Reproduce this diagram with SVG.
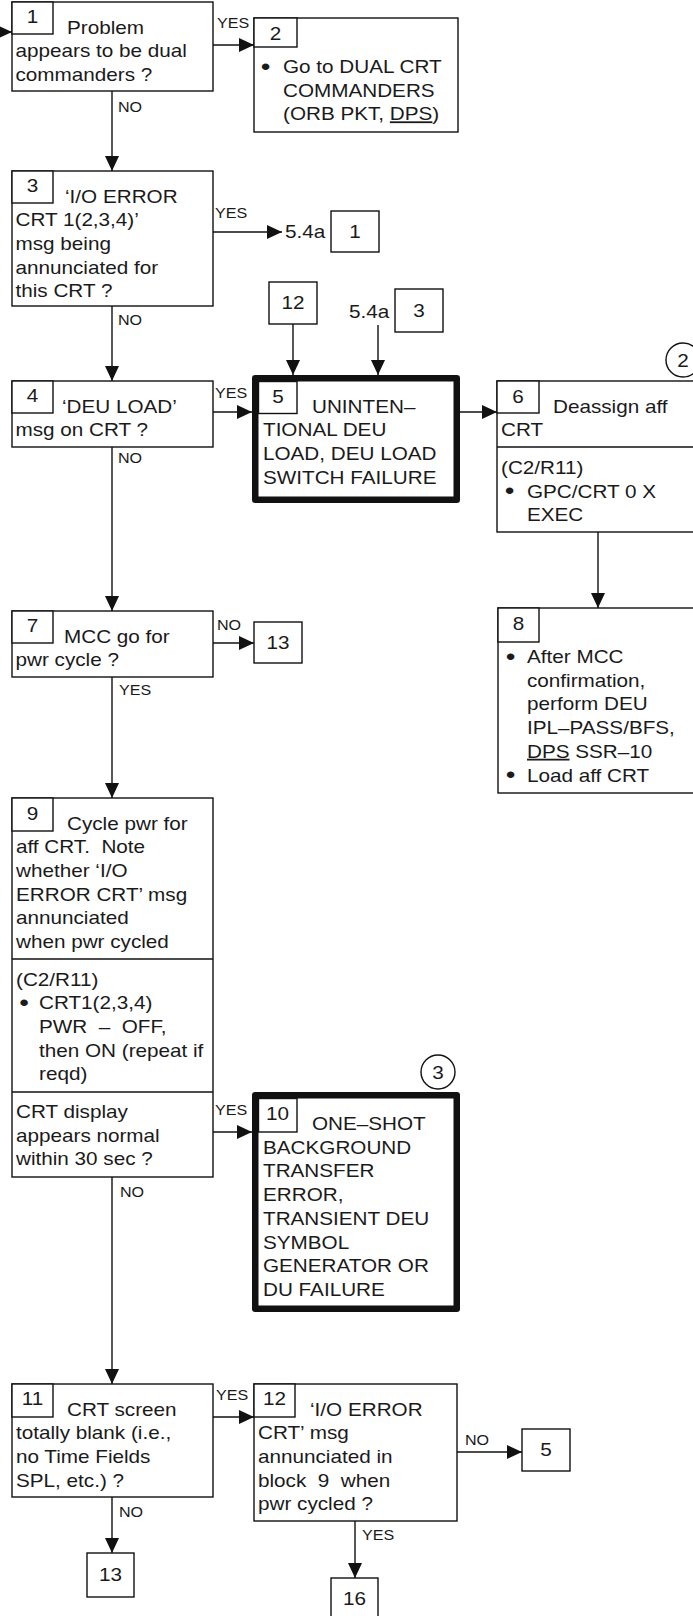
<svg xmlns="http://www.w3.org/2000/svg" width="693" height="1616" viewBox="0 0 693 1616">
<style>
.b{fill:#fff;stroke:#111;stroke-width:1.4}
.k{fill:#fff;stroke:#111;stroke-width:6.5;stroke-linejoin:round}
.n{fill:none;stroke:#111;stroke-width:1.4}
text{font-family:"Liberation Sans",Arial,Helvetica,sans-serif;font-size:18px;fill:#1a1a1a}
.s{font-size:14px}
.m{text-anchor:middle}
.bl{font-size:24px;text-anchor:middle}
.u{text-decoration:underline}
.c line{stroke:#111;stroke-width:1.4;marker-end:url(#ah)}
</style>
<defs>
<marker id="ah" markerUnits="userSpaceOnUse" markerWidth="16" markerHeight="14" refX="15" refY="7" orient="auto"><path d="M0,0 L15,7 L0,14 z" fill="#111"/></marker>
</defs>
<rect width="693" height="1616" fill="#fff"/>

<g id="connectors" class="c">
<line x1="0" y1="32" x2="12" y2="32"/>
<line x1="213" y1="45" x2="254" y2="45"/>
<line x1="112" y1="91" x2="112" y2="171"/>
<line x1="213" y1="232" x2="282" y2="232"/>
<line x1="112" y1="306" x2="112" y2="381"/>
<line x1="293" y1="324" x2="293" y2="375"/>
<line x1="378" y1="325" x2="378" y2="375"/>
<line x1="213" y1="412" x2="252" y2="412"/>
<line x1="460" y1="412" x2="497" y2="412"/>
<line x1="112" y1="447" x2="112" y2="611"/>
<line x1="598" y1="532" x2="598" y2="608"/>
<line x1="213" y1="643" x2="254" y2="643"/>
<line x1="112" y1="677" x2="112" y2="798"/>
<line x1="213" y1="1132" x2="252" y2="1132"/>
<line x1="112" y1="1177" x2="112" y2="1384"/>
<line x1="213" y1="1417" x2="254" y2="1417"/>
<line x1="112" y1="1497" x2="112" y2="1553"/>
<line x1="457" y1="1452" x2="522" y2="1452"/>
<line x1="355" y1="1521" x2="355" y2="1578"/>
<text class="s" transform="matrix(1.15 0 0 1 217 28)">YES</text>
<text class="s" transform="matrix(1.15 0 0 1 118 112)">NO</text>
<text class="s" transform="matrix(1.15 0 0 1 215 218)">YES</text>
<text class="s" transform="matrix(1.15 0 0 1 118 325)">NO</text>
<text class="s" transform="matrix(1.15 0 0 1 215 398)">YES</text>
<text class="s" transform="matrix(1.15 0 0 1 118 463)">NO</text>
<text class="s" transform="matrix(1.15 0 0 1 217 630)">NO</text>
<text class="s" transform="matrix(1.15 0 0 1 119 695)">YES</text>
<text class="s" transform="matrix(1.15 0 0 1 215 1115)">YES</text>
<text class="s" transform="matrix(1.15 0 0 1 120 1197)">NO</text>
<text class="s" transform="matrix(1.15 0 0 1 216 1400)">YES</text>
<text class="s" transform="matrix(1.15 0 0 1 119 1517)">NO</text>
<text class="s" transform="matrix(1.15 0 0 1 465 1445)">NO</text>
<text class="s" transform="matrix(1.15 0 0 1 362 1540)">YES</text>
</g>

<g id="n1">
<rect class="b" x="12" y="2" width="201" height="89"/>
<rect class="b" x="12" y="2" width="41" height="32"/>
<text class="m" transform="matrix(1.15 0 0 1 32.5 23)">1</text>
<text transform="matrix(1.15 0 0 1 67 33.5)">Problem</text>
<text transform="matrix(1.15 0 0 1 15.5 57.2)">appears to be dual</text>
<text transform="matrix(1.15 0 0 1 15.5 80.9)">commanders ?</text>
</g>

<g id="n2">
<rect class="b" x="254" y="18" width="204" height="114"/>
<rect class="b" x="254" y="18" width="43" height="29"/>
<text class="m" transform="matrix(1.15 0 0 1 275.5 40)">2</text>
<text class="bl" transform="matrix(1.15 0 0 1 265.5 74.5)">•</text>
<text transform="matrix(1.15 0 0 1 283 73)">Go to DUAL CRT</text>
<text transform="matrix(1.15 0 0 1 283 96.7)">COMMANDERS</text>
<text transform="matrix(1.15 0 0 1 283 120.4)">(ORB PKT, <tspan class="u">DPS</tspan>)</text>
</g>

<g id="n3">
<rect class="b" x="12" y="171" width="201" height="135"/>
<rect class="b" x="12" y="171" width="41" height="32"/>
<text class="m" transform="matrix(1.15 0 0 1 32.5 192)">3</text>
<text transform="matrix(1.15 0 0 1 65 202.5)">‘I/O ERROR</text>
<text transform="matrix(1.15 0 0 1 15.5 226.2)">CRT 1(2,3,4)’</text>
<text transform="matrix(1.15 0 0 1 15.5 249.9)">msg being</text>
<text transform="matrix(1.15 0 0 1 15.5 273.6)">annunciated for</text>
<text transform="matrix(1.15 0 0 1 15.5 297.3)">this CRT ?</text>
</g>

<g id="ref-5-4a-1">
<text transform="matrix(1.15 0 0 1 285 238)">5.4a</text>
<rect class="b" x="331" y="211" width="48" height="41"/>
<text class="m" transform="matrix(1.15 0 0 1 355 238)">1</text>
</g>

<g id="ref-12">
<rect class="b" x="269" y="282" width="48" height="42"/>
<text class="m" transform="matrix(1.15 0 0 1 293 309)">12</text>
</g>

<g id="ref-5-4a-3">
<text transform="matrix(1.15 0 0 1 349 318)">5.4a</text>
<rect class="b" x="395" y="289" width="48" height="43"/>
<text class="m" transform="matrix(1.15 0 0 1 419 317)">3</text>
</g>

<g id="n4">
<rect class="b" x="12" y="381" width="201" height="66"/>
<rect class="b" x="12" y="381" width="41" height="32"/>
<text class="m" transform="matrix(1.15 0 0 1 32.5 402)">4</text>
<text transform="matrix(1.15 0 0 1 62 412.5)">‘DEU LOAD’</text>
<text transform="matrix(1.15 0 0 1 15.5 436.2)">msg on CRT ?</text>
</g>

<g id="n5">
<rect class="k" x="255.25" y="378.25" width="201.5" height="121.5"/>
<rect class="b" x="258.5" y="381.5" width="38.5" height="32"/>
<text class="m" transform="matrix(1.15 0 0 1 278 403)">5</text>
<text transform="matrix(1.15 0 0 1 312 412.5)">UNINTEN–</text>
<text transform="matrix(1.15 0 0 1 263 436.2)">TIONAL DEU</text>
<text transform="matrix(1.15 0 0 1 263 459.9)">LOAD, DEU LOAD</text>
<text transform="matrix(1.15 0 0 1 263 483.6)">SWITCH FAILURE</text>
</g>

<g id="n6">
<rect class="b" x="497" y="381" width="210" height="151"/>
<line class="n" x1="497" y1="447" x2="700" y2="447"/>
<rect class="b" x="497" y="381" width="42" height="32"/>
<text class="m" transform="matrix(1.15 0 0 1 518 402.5)">6</text>
<text transform="matrix(1.15 0 0 1 553 412.5)">Deassign aff</text>
<text transform="matrix(1.15 0 0 1 501 436.2)">CRT</text>
<text transform="matrix(1.15 0 0 1 501 474)">(C2/R11)</text>
<text class="bl" transform="matrix(1.15 0 0 1 509.5 499.2)">•</text>
<text transform="matrix(1.15 0 0 1 527 497.7)">GPC/CRT 0 X</text>
<text transform="matrix(1.15 0 0 1 527 521.4)">EXEC</text>
<circle class="b" cx="683" cy="360" r="17"/>
<text class="m" transform="matrix(1.15 0 0 1 683 366.5)">2</text>
</g>

<g id="n7">
<rect class="b" x="12" y="611" width="201" height="66"/>
<rect class="b" x="12" y="611" width="41" height="32"/>
<text class="m" transform="matrix(1.15 0 0 1 32.5 632)">7</text>
<text transform="matrix(1.15 0 0 1 64 642.5)">MCC go for</text>
<text transform="matrix(1.15 0 0 1 15.5 666.2)">pwr cycle ?</text>
</g>

<g id="ref-13a">
<rect class="b" x="254" y="622" width="48" height="41"/>
<text class="m" transform="matrix(1.15 0 0 1 278 648.5)">13</text>
</g>

<g id="n8">
<rect class="b" x="498" y="608" width="210" height="185"/>
<rect class="b" x="498" y="608" width="41" height="34"/>
<text class="m" transform="matrix(1.15 0 0 1 518.5 630)">8</text>
<text class="bl" transform="matrix(1.15 0 0 1 510.5 664.5)">•</text>
<text transform="matrix(1.15 0 0 1 527 663)">After MCC</text>
<text transform="matrix(1.15 0 0 1 527 686.7)">confirmation,</text>
<text transform="matrix(1.15 0 0 1 527 710.4)">perform DEU</text>
<text transform="matrix(1.15 0 0 1 527 734.1)">IPL–PASS/BFS,</text>
<text transform="matrix(1.15 0 0 1 527 757.8)"><tspan class="u">DPS</tspan> SSR–10</text>
<text class="bl" transform="matrix(1.15 0 0 1 510.5 783)">•</text>
<text transform="matrix(1.15 0 0 1 527 781.5)">Load aff CRT</text>
</g>

<g id="n9">
<rect class="b" x="12" y="798" width="201" height="379"/>
<line class="n" x1="12" y1="959" x2="213" y2="959"/>
<line class="n" x1="12" y1="1092" x2="213" y2="1092"/>
<rect class="b" x="12" y="798" width="41" height="33"/>
<text class="m" transform="matrix(1.15 0 0 1 32.5 820)">9</text>
<text transform="matrix(1.15 0 0 1 67 829.5)">Cycle pwr for</text>
<text transform="matrix(1.15 0 0 1 16 853.2)" xml:space="preserve">aff CRT.  Note</text>
<text transform="matrix(1.15 0 0 1 16 876.9)">whether ‘I/O</text>
<text transform="matrix(1.15 0 0 1 16 900.6)">ERROR CRT’ msg</text>
<text transform="matrix(1.15 0 0 1 16 924.3)">annunciated</text>
<text transform="matrix(1.15 0 0 1 16 948)">when pwr cycled</text>
<text transform="matrix(1.15 0 0 1 16 985.5)">(C2/R11)</text>
<text class="bl" transform="matrix(1.15 0 0 1 24 1010.7)">•</text>
<text transform="matrix(1.15 0 0 1 39 1009.2)">CRT1(2,3,4)</text>
<text transform="matrix(1.15 0 0 1 39 1032.9)" xml:space="preserve">PWR  –  OFF,</text>
<text transform="matrix(1.15 0 0 1 39 1056.6)">then ON (repeat if</text>
<text transform="matrix(1.15 0 0 1 39 1080.3)">reqd)</text>
<text transform="matrix(1.15 0 0 1 16 1118)">CRT display</text>
<text transform="matrix(1.15 0 0 1 16 1141.7)">appears normal</text>
<text transform="matrix(1.15 0 0 1 16 1165.4)">within 30 sec ?</text>
</g>

<g id="n10">
<rect class="k" x="255.25" y="1095.25" width="201.5" height="213.5"/>
<rect class="b" x="258.5" y="1098.5" width="38.5" height="33.5"/>
<text class="m" transform="matrix(1.15 0 0 1 277.5 1120)">10</text>
<text transform="matrix(1.15 0 0 1 312 1130)">ONE–SHOT</text>
<text transform="matrix(1.15 0 0 1 263 1153.7)">BACKGROUND</text>
<text transform="matrix(1.15 0 0 1 263 1177.4)">TRANSFER</text>
<text transform="matrix(1.15 0 0 1 263 1201.1)">ERROR,</text>
<text transform="matrix(1.15 0 0 1 263 1224.8)">TRANSIENT DEU</text>
<text transform="matrix(1.15 0 0 1 263 1248.5)">SYMBOL</text>
<text transform="matrix(1.15 0 0 1 263 1272.2)">GENERATOR OR</text>
<text transform="matrix(1.15 0 0 1 263 1295.9)">DU FAILURE</text>
<circle class="b" cx="438" cy="1072" r="17"/>
<text class="m" transform="matrix(1.15 0 0 1 438 1078.5)">3</text>
</g>

<g id="n11">
<rect class="b" x="12" y="1384" width="201" height="113"/>
<rect class="b" x="12" y="1384" width="41" height="33"/>
<text class="m" transform="matrix(1.15 0 0 1 32.5 1405)">11</text>
<text transform="matrix(1.15 0 0 1 67 1415.5)">CRT screen</text>
<text transform="matrix(1.15 0 0 1 16 1439.2)">totally blank (i.e.,</text>
<text transform="matrix(1.15 0 0 1 16 1462.9)">no Time Fields</text>
<text transform="matrix(1.15 0 0 1 16 1486.6)">SPL, etc.) ?</text>
</g>

<g id="n12">
<rect class="b" x="254" y="1384" width="203" height="137"/>
<rect class="b" x="254" y="1384" width="41" height="33"/>
<text class="m" transform="matrix(1.15 0 0 1 274.5 1405)">12</text>
<text transform="matrix(1.15 0 0 1 310 1415.5)">‘I/O ERROR</text>
<text transform="matrix(1.15 0 0 1 258 1439.2)">CRT’ msg</text>
<text transform="matrix(1.15 0 0 1 258 1462.9)">annunciated in</text>
<text transform="matrix(1.15 0 0 1 258 1486.6)" xml:space="preserve">block  9  when</text>
<text transform="matrix(1.15 0 0 1 258 1510.3)">pwr cycled ?</text>
</g>

<g id="ref-5">
<rect class="b" x="522" y="1429" width="48" height="42"/>
<text class="m" transform="matrix(1.15 0 0 1 546 1456)">5</text>
</g>

<g id="ref-13b">
<rect class="b" x="87" y="1553" width="47" height="44"/>
<text class="m" transform="matrix(1.15 0 0 1 110.5 1581)">13</text>
</g>

<g id="ref-16">
<rect class="b" x="331" y="1578" width="47" height="44"/>
<text class="m" transform="matrix(1.15 0 0 1 354.5 1605)">16</text>
</g>
</svg>
